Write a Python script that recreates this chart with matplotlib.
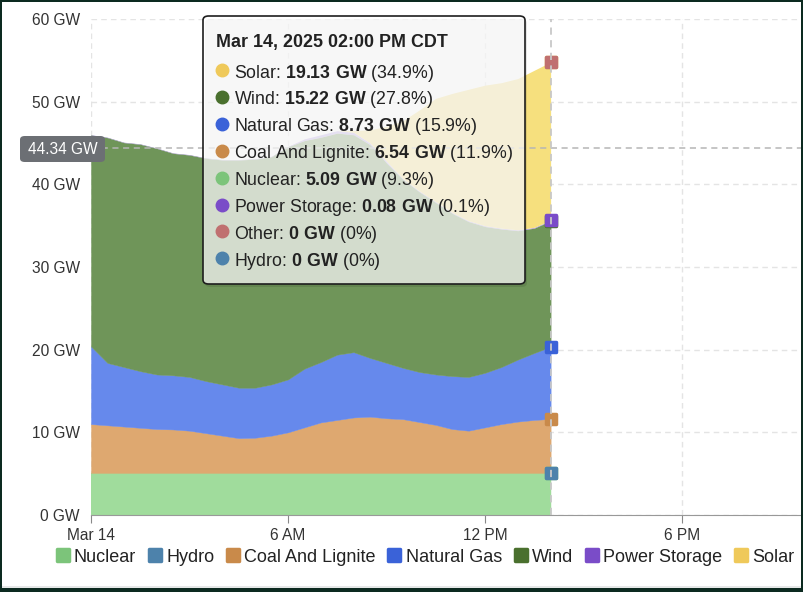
import matplotlib
matplotlib.use("Agg")
import matplotlib.pyplot as plt
from matplotlib.patches import FancyBboxPatch, Rectangle
from matplotlib.lines import Line2D
from matplotlib.markers import MarkerStyle

plt.rcParams["font.family"] = ["Liberation Sans", "DejaVu Sans"]
plt.rcParams["mathtext.fontset"] = "custom"
plt.rcParams["mathtext.rm"] = "Liberation Sans"
plt.rcParams["mathtext.bf"] = "Liberation Sans:bold"

W, H = 804, 592

# hours after midnight, Mar 14 2025 (CDT)
hours = [0.0, 0.5, 1.0, 1.5, 2.0, 2.5, 3.0, 3.5, 4.0, 4.5, 5.0, 5.5, 6.0, 6.5, 7.0,
         7.5, 8.0, 8.5, 9.0, 9.5, 10.0, 10.5, 11.0, 11.5, 12.0, 12.5, 13.0, 13.5, 14.0]

# generation in GW
nuclear = [5.09, 5.09, 5.09, 5.09, 5.09, 5.09, 5.09, 5.09, 5.09, 5.09, 5.09, 5.09, 5.09, 5.09, 5.09,
           5.09, 5.09, 5.09, 5.09, 5.09, 5.09, 5.09, 5.09, 5.09, 5.09, 5.09, 5.09, 5.09, 5.09]
hydro = [0, 0, 0, 0, 0, 0, 0, 0, 0, 0, 0, 0, 0, 0, 0,
         0, 0, 0, 0, 0, 0, 0, 0, 0, 0, 0, 0, 0, 0]
coal = [5.91, 5.76, 5.61, 5.46, 5.31, 5.26, 5.11, 4.81, 4.51, 4.21, 4.26, 4.51, 4.91, 5.51, 6.11,
        6.41, 6.71, 6.81, 6.61, 6.51, 6.16, 5.81, 5.31, 5.11, 5.51, 5.91, 6.21, 6.41, 6.54]
gas = [9.4, 7.55, 7.2, 6.85, 6.6, 6.55, 6.5, 6.3, 6.2, 6.1, 6.05, 6.2, 6.4, 7.1, 7.3,
       7.9, 7.9, 7.1, 6.7, 6.2, 6.05, 6.1, 6.4, 6.5, 6.6, 6.9, 7.5, 8.1, 8.73]
wind = [25.55, 27.25, 27.15, 27.45, 27.35, 26.85, 26.85, 26.95, 27.15, 27.55, 27.65, 27.55, 28.15, 27.6, 27.2,
        26.8, 26.3, 25.8, 24.2, 22.8, 21.8, 20.8, 19.7, 18.8, 17.7, 16.7, 15.6, 15.1, 15.22]
storage = [0.05, 0.05, 0.05, 0.05, 0.05, 0.05, 0.05, 0.05, 0.05, 0.05, 0.05, 0.05, 0.05, 0.2, 0.3,
           0.3, 0.3, 0.2, 0.2, 0.1, 0.1, 0.1, 0.1, 0.1, 0.1, 0.1, 0.1, 0.1, 0.08]
solar = [0, 0, 0, 0, 0, 0, 0, 0, 0, 0, 0, 0, 0, 0, 0,
         0.0, 0.2, 1.6, 4.2, 7.0, 9.8, 12.5, 14.4, 15.9, 17.0, 17.6, 18.3, 19.0, 19.13]
other = [0, 0, 0, 0, 0, 0, 0, 0, 0, 0, 0, 0, 0, 0, 0,
         0, 0, 0, 0, 0, 0, 0, 0, 0, 0, 0, 0, 0, 0]

series_names = ["Nuclear", "Hydro", "Coal And Lignite", "Natural Gas", "Wind",
                "Power Storage", "Solar", "Other"]
series_values = [nuclear, hydro, coal, gas, wind, storage, solar, other]
line_colors = ["#7cc47a", "#4d82ab", "#c98a4a", "#3a62d8", "#4a702e",
               "#7a4cc8", "#efc95a", "#c07070"]
fill_colors = ["#a0dc9c", "#7aa3c4", "#dea870", "#6689ec", "#6f9559",
               "#b8a2e6", "#f6e07e", "#d49a9a"]

legend_names = ["Nuclear", "Hydro", "Coal And Lignite", "Natural Gas", "Wind",
                "Power Storage", "Solar"]
tooltip_order = ["Solar", "Wind", "Natural Gas", "Coal And Lignite", "Nuclear",
                 "Power Storage", "Other", "Hydro"]
tooltip_title = "Mar 14, 2025 02:00 PM CDT"
cursor_value = 44.34

x_ticks = [0, 6, 12, 18]
x_tick_labels = ["Mar 14", "6 AM", "12 PM", "6 PM"]
y_ticks = [0, 10, 20, 30, 40, 50, 60]


def fx(px):
    return px / W


def fy(py):
    return 1 - py / H


fig = plt.figure(figsize=(W / 100, H / 100), dpi=100)
fig.patch.set_facecolor("white")

x0, x1 = 91, 801
ax = fig.add_axes([fx(x0), fy(515), (x1 - x0) / W, (515 - 19) / H])
ax.set_xlim(0, (x1 - x0) / 32.83)
ax.set_ylim(0, 60)

polys = ax.stackplot(hours, *series_values, colors=fill_colors, zorder=2)
edged = ["Nuclear", "Coal And Lignite", "Natural Gas", "Wind"]
for p, c, name in zip(polys, fill_colors, series_names):
    # thin edge in the fill colour hides seams between layers
    p.set_edgecolor(c)
    p.set_linewidth(0.3 if name in edged else 0)

ax.set_xticks(x_ticks)
ax.set_xticklabels(x_tick_labels)
ax.set_yticks(y_ticks)
ax.set_yticklabels([f"{v} GW" for v in y_ticks])
ax.tick_params(axis="x", length=6, color="#888888", labelsize=11.2, labelcolor="#333333", pad=3)
ax.tick_params(axis="y", length=0, labelsize=11.2, labelcolor="#333333", pad=8)
ax.grid(True, color="#e4e4e4", linestyle=(0, (4, 3)), linewidth=1, zorder=0)
ax.set_axisbelow(True)
for s in ["top", "right", "left"]:
    ax.spines[s].set_visible(False)
ax.spines["bottom"].set_color("#999999")
ax.spines["bottom"].set_zorder(5)

# crosshair
t_end = hours[-1]
ax.axhline(cursor_value, color="#b5b5b5", linestyle=(0, (4, 3)), linewidth=1.1, zorder=6)
ax.axvline(t_end, color="#c8c8c8", linestyle=(0, (4, 3)), linewidth=1.3, zorder=7)

# hover markers at the end of each stack
cum = 0
tops = {}
for name, vals in zip(series_names, series_values):
    cum += vals[-1]
    tops[name] = cum
rounded_sq = MarkerStyle("s", joinstyle="round")
for name, col in zip(series_names, line_colors):
    ax.plot([t_end], [tops[name]], marker=rounded_sq, markersize=7, color=col,
            markeredgecolor=col, markeredgewidth=2.5, linestyle="", zorder=6, clip_on=False)

# y value box
fig.add_artist(FancyBboxPatch((fx(20), fy(162)), (105 - 20) / W, 26 / H,
                              boxstyle="round,pad=0,rounding_size=0.006",
                              transform=fig.transFigure, facecolor="#6c6f74",
                              edgecolor="none", zorder=10))
fig.text(fx(62.5), fy(149), f"{cursor_value:.2f} GW", color="white", fontsize=11.2,
         ha="center", va="center", zorder=11)

# tooltip
bx0, by0, bx1, by1 = 203, 16, 525, 284
fig.add_artist(FancyBboxPatch((fx(bx0 + 2), fy(by1 + 3)), (bx1 - bx0) / W, (by1 - by0) / H,
                              boxstyle="round,pad=0,rounding_size=0.007",
                              transform=fig.transFigure, facecolor="black", alpha=0.10,
                              edgecolor="none", zorder=12))
fig.add_artist(FancyBboxPatch((fx(bx0), fy(by1)), (bx1 - bx0) / W, (by1 - by0) / H,
                              boxstyle="round,pad=0,rounding_size=0.007",
                              transform=fig.transFigure, facecolor="white", alpha=0.72,
                              edgecolor="none", zorder=13))
fig.add_artist(FancyBboxPatch((fx(bx0), fy(by1)), (bx1 - bx0) / W, (by1 - by0) / H,
                              boxstyle="round,pad=0,rounding_size=0.007",
                              transform=fig.transFigure, facecolor="none",
                              edgecolor="#1e1e1e", linewidth=1.2, zorder=14))

fig.text(fx(216), fy(43), tooltip_title, fontsize=12.9, fontweight="bold", color="#222222",
         ha="left", va="center", zorder=15)

total = tops["Other"]
row_y = 70
for name in tooltip_order:
    idx = series_names.index(name)
    v = series_values[idx][-1]
    pct = "0%" if v == 0 else f"{v / total * 100:.1f}%"
    fig.add_artist(Line2D([fx(222)], [fy(row_y)], marker="o", markersize=9,
                          color=line_colors[idx], transform=fig.transFigure, zorder=15))
    label = name + r": $\mathbf{" + f"{v:g}" + r"\ GW}$ (" + pct + ")"
    fig.text(fx(234), fy(row_y), label, fontsize=12.8, color="#222222",
             ha="left", va="center_baseline", zorder=15)
    row_y += 26.9

# legend
handles = [Line2D([], [], marker=rounded_sq, markersize=8.5, markeredgewidth=2.5,
                  color=line_colors[series_names.index(n)], linestyle="")
           for n in legend_names]
fig.legend(handles, legend_names, loc="center", bbox_to_anchor=(fx(425), fy(557)),
           ncol=len(legend_names), frameon=False, fontsize=13, handlelength=0.75,
           handletextpad=0.25, columnspacing=0.66, borderaxespad=0, labelcolor="#222222")

# outer frame
frame = "#0c2a20"
fig.add_artist(Rectangle((0, fy(589)), 1, 3 / H, transform=fig.transFigure,
                         facecolor="#e6e8e8", edgecolor="none", zorder=20))
fig.add_artist(Rectangle((0, 0), 1, 4 / H, transform=fig.transFigure,
                         facecolor=frame, edgecolor="none", zorder=21))
fig.add_artist(Rectangle((0, fy(2)), 1, 2 / H, transform=fig.transFigure,
                         facecolor=frame, edgecolor="none", zorder=21))
fig.add_artist(Rectangle((0, 0), 2 / W, 1, transform=fig.transFigure,
                         facecolor=frame, edgecolor="none", zorder=21))
fig.add_artist(Rectangle((fx(801), 0), 3 / W, 1, transform=fig.transFigure,
                         facecolor=frame, edgecolor="none", zorder=21))

fig.savefig("out.png", dpi=100)
